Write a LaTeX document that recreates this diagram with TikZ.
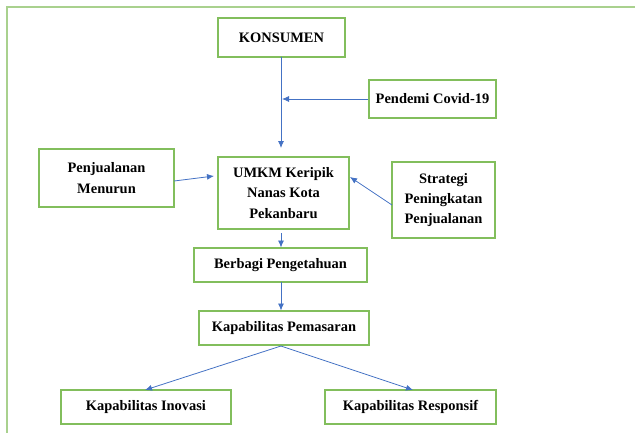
\documentclass[tikz,border=0pt]{standalone}
\usepackage{fontspec}
\setmainfont{Liberation Serif}
\usetikzlibrary{arrows.meta}
\definecolor{framegreen}{HTML}{A9D18E}
\definecolor{boxgreen}{HTML}{82BE5C}
\definecolor{arrowblue}{HTML}{4472C4}
\begin{document}
\begin{tikzpicture}[x=1bp,y=-1bp,
  box/.style={draw=boxgreen,line width=1.3bp,fill=white,align=center,inner sep=0pt,
    font=\fontsize{14.5}{20.5}\selectfont\bfseries},
  conn/.style={draw=arrowblue,line width=0.8bp,-{Latex[length=7bp,width=6bp]}}]
\useasboundingbox (0,0) rectangle (635,432);
\draw[framegreen,line width=2bp] (7,433) -- (7,7) -- (636,7);
\node[box,minimum width=127bp,minimum height=39bp] (kons) at (281.5,37.5) {KONSUMEN};
\node[box,minimum width=127bp,minimum height=38bp] (pend) at (432.5,99) {Pendemi Covid-19};
\node[box,minimum width=135bp,minimum height=58bp] (penj) at (106.5,178) {Penjualanan\\Menurun};
\node[box,minimum width=131bp,minimum height=72bp] (umkm) at (283.5,193) {UMKM Keripik\\Nanas Kota\\Pekanbaru};
\node[box,minimum width=103bp,minimum height=76bp] (strat) at (443.5,200) {Strategi\\Peningkatan\\Penjualanan};
\node[box,minimum width=173bp,minimum height=34bp] (berb) at (280.5,265) {Berbagi Pengetahuan};
\node[box,minimum width=170bp,minimum height=34bp] (pema) at (284,328) {Kapabilitas Pemasaran};
\node[box,minimum width=170bp,minimum height=34bp] (inov) at (146,407) {Kapabilitas Inovasi};
\node[box,minimum width=171bp,minimum height=34bp] (resp) at (410.5,407) {Kapabilitas Responsif};
\coordinate (k1) at (281,57);
\coordinate (k2) at (281,148);
\coordinate (p2) at (282,99);
\coordinate (q1) at (174,181);
\coordinate (q2) at (214,176);
\coordinate (s1) at (392,205);
\coordinate (s2) at (350,177);
\coordinate (u1) at (281,233);
\coordinate (u2) at (281,247.5);
\coordinate (b1) at (281,282);
\coordinate (b2) at (281,310.5);
\coordinate (m1) at (281,346);
\coordinate (i2) at (145,390);
\coordinate (r2) at (413,390);
\draw[draw=arrowblue,line width=0.8bp] (kons.south) -- (k1);
\draw[conn] (k1) -- (k2);
\draw[conn] (pend.west) -- (p2);
\draw[conn] (q1) -- (q2);
\draw[conn] (s1) -- (s2);
\draw[conn] (u1) -- (u2);
\draw[conn] (b1) -- (b2);
\draw[conn] (m1) -- (i2);
\draw[conn] (m1) -- (r2);
\end{tikzpicture}
\end{document}
